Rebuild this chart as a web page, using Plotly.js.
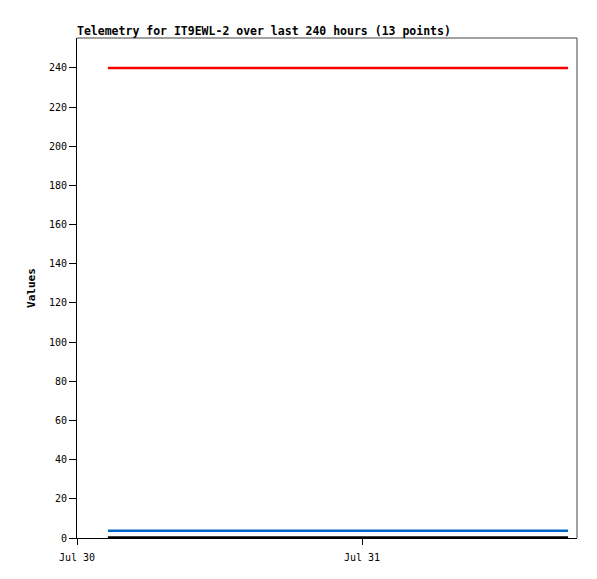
<!DOCTYPE html>
<html><head><meta charset="utf-8">
<script src="https://cdn.plot.ly/plotly-3.0.1.min.js"></script>
<style>body{margin:0;background:#fff}#c{width:597px;height:579px}</style>
</head><body><div id="c"></div>
<script>
const times = ["2024-07-30 02:36","2024-07-30 05:50","2024-07-30 09:04","2024-07-30 12:17","2024-07-30 15:31","2024-07-30 18:45","2024-07-30 21:59","2024-07-31 01:12","2024-07-31 04:26","2024-07-31 07:40","2024-07-31 10:54","2024-07-31 14:07","2024-07-31 17:21"];
const redVals = [240,240,240,240,240,240,240,240,240,240,240,240,240];
const blueVals = [3.7,3.7,3.7,3.7,3.7,3.7,3.7,3.7,3.7,3.7,3.7,3.7,3.7];
const blackVals = [0.3,0.3,0.3,0.3,0.3,0.3,0.3,0.3,0.3,0.3,0.3,0.3,0.3];
const mono = "DejaVu Sans Mono, Liberation Mono, monospace";
const traces = [
  {x: times, y: redVals, mode:"lines", line:{color:"#ff0000", width:2.5}},
  {x: times, y: blueVals, mode:"lines", line:{color:"#0066cc", width:2.5}},
  {x: times, y: blackVals, mode:"lines", line:{color:"#000000", width:2.5}}
];
const layout = {
  width:597, height:579,
  margin:{l:77, r:20, t:38, b:41},
  showlegend:false,
  paper_bgcolor:"#fff", plot_bgcolor:"#fff",
  title:{text:"<b>Telemetry for IT9EWL-2 over last 240 hours (13 points)</b>", x:77/597, xanchor:"left", y:1-31/579, yanchor:"middle", font:{family:mono, size:11.5, color:"#000"}},
  xaxis:{type:"date", range:["2024-07-30 00:00","2024-07-31 18:06"], dtick:86400000, tick0:"2024-07-30", tickformat:"%b %d",
    showgrid:false, zeroline:false, showline:true, linecolor:"#000", linewidth:1, ticks:"outside", ticklen:6, tickcolor:"#000",
    ticklabelstandoff:4,
    tickfont:{family:mono, size:10, color:"#000"}, mirror:false},
  yaxis:{range:[0,255.3], dtick:20, showgrid:false, zeroline:false, showline:true, linecolor:"#000", linewidth:1,
    ticks:"outside", ticklen:7, tickcolor:"#000", tickfont:{family:mono, size:10, color:"#000"},
    title:{text:"<b>Values</b>", font:{family:mono, size:11, color:"#000"}, standoff:11}},
  shapes:[
    {type:"line", xref:"paper", yref:"paper", x0:0, x1:1, y0:1, y1:1, line:{color:"#444", width:1}},
    {type:"line", xref:"paper", yref:"paper", x0:1, x1:1, y0:0, y1:1, line:{color:"#444", width:1}}
  ]
};
Plotly.newPlot("c", traces, layout, {displayModeBar:false, staticPlot:true});
</script></body></html>
